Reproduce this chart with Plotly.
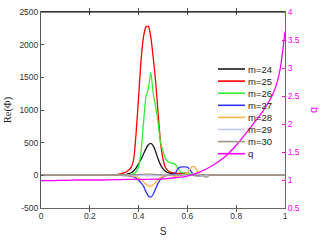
import plotly.graph_objects as go

# ---------------- data ----------------
s_re = [0.0,
        0.25, 0.26, 0.27, 0.28, 0.29, 0.30, 0.31, 0.32, 0.33, 0.34,
        0.35, 0.36, 0.37, 0.38, 0.39, 0.40, 0.41, 0.42, 0.43, 0.44,
        0.45, 0.46, 0.47, 0.48, 0.49, 0.50, 0.51, 0.52, 0.53, 0.54,
        0.55, 0.56, 0.57, 0.58, 0.59, 0.60, 0.61, 0.62, 0.63, 0.64,
        0.65, 0.66, 0.67, 0.68, 0.69, 0.70,
        1.0]

m24 = [0,
       0, 0, 0, 0, 0, 1, 1, 2, 4, 8,
       15, 25, 40, 70, 115, 175, 245, 325, 405, 468,
       488, 450, 360, 250, 160, 100, 62, 42, 32, 27,
       24, 22, 22, 25, 28, 24, 16, 10, 8, 6,
       4, 2, 0, 0, 0, 0,
       0]
m25 = [0,
       0, 0, 1, 2, 4, 7, 11, 17, 26, 38,
       55, 80, 125, 250, 660, 1200, 1760, 2120, 2270, 2280,
       2120, 1800, 1430, 950, 500, 250, 120, 72, 50, 40,
       34, 30, 28, 30, 34, 30, 22, 16, 14, 10,
       5, 2, 0, 0, 0, 0,
       0]
m26 = [0,
       0, 0, 0, 0, 0, 0, 0, 1, 2, 3,
       5, 8, 14, 25, 55, 140, 360, 800, 1200, 1330,
       1570, 1250, 1050, 800, 500, 370, 260, 210, 190, 185,
       170, 120, 60, 40, 35, 32, 28, 22, 18, 12,
       6, 2, 0, 0, 0, 0,
       0]
m27 = [0,
       0, 0, 0, 0, 0, 0, 0, -1, -2, -3,
       -5, -8, -14, -25, -45, -75, -115, -165, -250, -315,
       -334, -290, -200, -120, -60, -25, -10, -2, 3, 10,
       30, 95, 125, 130, 130, 125, 85, 35, 5, 0,
       -8, -5, 0, 0, 0, 0,
       0]
m28 = [0,
       0, 0, 0, 0, 0, 0, 0, 0, -1, -2,
       -3, -5, -8, -14, -25, -42, -68, -100, -135, -160,
       -165, -145, -105, -65, -35, -16, -6, -2, -5, -10,
       -15, -12, -4, 5, 15, 40, 100, 135, 130, 70,
       15, -6, -3, 0, 0, 0,
       0]
m29 = [0,
       0, 0, 0, 0, 0, 0, 0, 0, 0, 0,
       0, 0, 0, -1, -2, -3, -4, -5, -6, -6,
       -6, -5, -4, -3, -2, -1, 0, 0, 0, 0,
       0, 2, 5, 8, 10, 12, 15, 20, 25, 20,
       10, -5, -10, -5, 0, 0,
       0]
m30 = [0,
       0, 0, 0, 0, 0, 0, 1, 1, 2, 3,
       4, 5, 7, 9, 11, 13, 15, 17, 18, 18,
       17, 15, 13, 11, 9, 7, 5, 4, 3, 2,
       2, 2, 3, 5, 8, 10, 5, 0, -5, -10,
       5, 15, -20, -25, 0, 0,
       0]

s_q = [0.0, 0.05, 0.10, 0.15, 0.20, 0.25, 0.30, 0.35, 0.40, 0.45, 0.50,
       0.55, 0.60, 0.65, 0.70, 0.75, 0.80, 0.85, 0.90, 0.93, 0.95,
       0.97, 0.98, 0.99, 1.0]
q_vals = [0.99, 0.99, 0.995, 1.0, 1.0, 1.0, 1.005, 1.01, 1.01, 1.015, 1.02,
          1.04, 1.07, 1.14, 1.25, 1.40, 1.62, 1.89, 2.17, 2.37, 2.53,
          2.78, 2.98, 3.28, 3.65]

names = ["m=24", "m=25", "m=26", "m=27", "m=28", "m=29", "m=30", "q"]
colors = ["#1a1a1a", "#ff0000", "#33ee33", "#3333ff", "#ffb347",
          "#c4c4ff", "#a09585", "#ff00ff"]
series = [m24, m25, m26, m27, m28, m29, m30]

x_ticks = [0, 0.2, 0.4, 0.6, 0.8, 1]
y_ticks = [-500, 0, 500, 1000, 1500, 2000, 2500]
q_ticks = [0.5, 1, 1.5, 2, 2.5, 3, 3.5, 4]

# ---------------- figure ----------------
fig = go.Figure()
for name, col, vals in zip(names[:7], colors[:7], series):
    fig.add_trace(go.Scatter(x=s_re, y=vals, mode="lines", name=name,
                             line=dict(color=col, width=1.3, shape="spline", smoothing=0.6),
                             showlegend=False))
fig.add_trace(go.Scatter(x=s_q, y=q_vals, mode="lines", name="q", yaxis="y2",
                         line=dict(color=colors[7], width=1.3, shape="spline", smoothing=0.8),
                         showlegend=False))

W, H = 327, 245
ml, mr, mt, mb = 41, 42, 12, 37
pw, ph = W - ml - mr, H - mt - mb

def px2paper(px, py):
    return (px - ml) / pw, (H - mb - py) / ph

tick_font = dict(family="Liberation Sans, Arial", size=8.5, color="#333333")

fig.update_layout(
    width=W, height=H,
    margin=dict(l=ml, r=mr, t=mt, b=mb, autoexpand=False),
    paper_bgcolor="white", plot_bgcolor="white",
    xaxis=dict(range=[0, 1], tickvals=x_ticks, ticktext=[str(v) for v in x_ticks],
               ticks="inside", ticklen=3, tickcolor="#555", showline=True,
               linecolor="#666", linewidth=1, mirror="allticks", showgrid=False,
               zeroline=False, tickfont=tick_font, automargin=False,
               ticklabeloverflow="allow",
               title=dict(text="S", font=dict(family="Liberation Sans, Arial", size=10, color="#222"),
                          standoff=7)),
    yaxis=dict(range=[-500, 2500], tickvals=y_ticks, ticktext=[str(v) for v in y_ticks],
               ticks="inside", ticklen=3, tickcolor="#555", showline=True,
               linecolor="#555", linewidth=1, showgrid=False, zeroline=False,
               tickfont=tick_font, automargin=False, ticklabeloverflow="allow",
               title=dict(text="Re(Φ)", font=dict(family="Liberation Serif, Times New Roman", size=10.5, color="#222"),
                          standoff=5)),
    yaxis2=dict(range=[0.5, 4], tickvals=q_ticks, ticktext=[str(v) for v in q_ticks],
                overlaying="y", side="right", anchor="x", automargin=False,
                ticklabeloverflow="allow",
                ticks="inside", ticklen=3, tickcolor="#ff00ff", showline=True,
                linecolor="#ff00ff", linewidth=1, showgrid=False, zeroline=False,
                tickfont=dict(family="Liberation Sans, Arial", size=8.5, color="#ff00ff"),
                title=dict(text="q", font=dict(family="Liberation Sans, Arial", size=11, color="#ff00ff"),
                           standoff=10)),
    showlegend=False,
)

# top frame line (black)
fig.add_shape(type="line", xref="paper", yref="paper", x0=0, x1=1, y0=1, y1=1,
              line=dict(color="black", width=1))

# manual compact legend
for i, (name, col) in enumerate(zip(names, colors)):
    py = 69 + 12.1 * i
    x0, y0 = px2paper(218, py)
    x1, _ = px2paper(245, py)
    fig.add_shape(type="line", xref="paper", yref="paper", x0=x0, x1=x1, y0=y0, y1=y0,
                  line=dict(color=col, width=1.6))
    tx, _ = px2paper(246, py)
    fig.add_annotation(x=tx, y=y0, xref="paper", yref="paper", text=name,
                       showarrow=False, xanchor="left", yanchor="middle",
                       font=dict(family="Liberation Sans, Arial", size=9.5, color="#222"))

# remove the default page margin so the figure sits at the window origin
fig.write_html("out.html", config={"displayModeBar": False},
               post_script="document.body.style.margin='0';")
